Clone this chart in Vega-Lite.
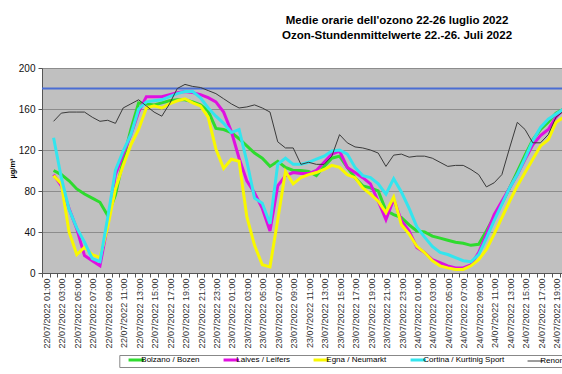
{
"$schema": "https://vega.github.io/schema/vega-lite/v6.json",
"width": 520, "height": 205,
"autosize": {"type": "none"},
"padding": {"left": 42, "top": 68, "right": 0, "bottom": 101},
"background": "white",
"config": {"font": "Liberation Sans", "view": {"fill": "#c0c0c0", "stroke": null}},
"title": {"text": ["Medie orarie dell'ozono 22-26 luglio 2022", "Ozon-Stundenmittelwerte 22.-26. Juli 2022"], "fontSize": 11.5, "fontWeight": "bold", "font": "Liberation Sans", "color": "#000", "anchor": "middle", "dx": 95, "lineHeight": 15, "offset": 22},
"datasets": {
"ozone": [
{"station":"Bolzano / Bozen","hour":1,"o3":100},{"station":"Bolzano / Bozen","hour":2,"o3":96},{"station":"Bolzano / Bozen","hour":3,"o3":90},{"station":"Bolzano / Bozen","hour":4,"o3":82},{"station":"Bolzano / Bozen","hour":5,"o3":77},{"station":"Bolzano / Bozen","hour":6,"o3":73},{"station":"Bolzano / Bozen","hour":7,"o3":69},{"station":"Bolzano / Bozen","hour":8,"o3":56},{"station":"Bolzano / Bozen","hour":9,"o3":76},{"station":"Bolzano / Bozen","hour":10,"o3":110},
{"station":"Bolzano / Bozen","hour":11,"o3":140},{"station":"Bolzano / Bozen","hour":12,"o3":166},{"station":"Bolzano / Bozen","hour":13,"o3":165},{"station":"Bolzano / Bozen","hour":14,"o3":164},{"station":"Bolzano / Bozen","hour":15,"o3":166},{"station":"Bolzano / Bozen","hour":16,"o3":168},{"station":"Bolzano / Bozen","hour":17,"o3":169},{"station":"Bolzano / Bozen","hour":18,"o3":169},{"station":"Bolzano / Bozen","hour":19,"o3":167},{"station":"Bolzano / Bozen","hour":20,"o3":164},
{"station":"Bolzano / Bozen","hour":21,"o3":158},{"station":"Bolzano / Bozen","hour":22,"o3":141},{"station":"Bolzano / Bozen","hour":23,"o3":140},{"station":"Bolzano / Bozen","hour":24,"o3":137},{"station":"Bolzano / Bozen","hour":25,"o3":131},{"station":"Bolzano / Bozen","hour":26,"o3":124},{"station":"Bolzano / Bozen","hour":27,"o3":117},{"station":"Bolzano / Bozen","hour":28,"o3":112},{"station":"Bolzano / Bozen","hour":29,"o3":104},{"station":"Bolzano / Bozen","hour":30,"o3":109},
{"station":"Bolzano / Bozen","hour":31,"o3":103},{"station":"Bolzano / Bozen","hour":32,"o3":100},{"station":"Bolzano / Bozen","hour":33,"o3":100},{"station":"Bolzano / Bozen","hour":34,"o3":99},{"station":"Bolzano / Bozen","hour":35,"o3":95},{"station":"Bolzano / Bozen","hour":36,"o3":104},{"station":"Bolzano / Bozen","hour":37,"o3":112},{"station":"Bolzano / Bozen","hour":38,"o3":114},{"station":"Bolzano / Bozen","hour":39,"o3":103},{"station":"Bolzano / Bozen","hour":40,"o3":93},
{"station":"Bolzano / Bozen","hour":41,"o3":85},{"station":"Bolzano / Bozen","hour":42,"o3":83},{"station":"Bolzano / Bozen","hour":43,"o3":80},{"station":"Bolzano / Bozen","hour":44,"o3":61},{"station":"Bolzano / Bozen","hour":45,"o3":57},{"station":"Bolzano / Bozen","hour":46,"o3":54},{"station":"Bolzano / Bozen","hour":47,"o3":47},{"station":"Bolzano / Bozen","hour":48,"o3":41},{"station":"Bolzano / Bozen","hour":49,"o3":40},{"station":"Bolzano / Bozen","hour":50,"o3":36},
{"station":"Bolzano / Bozen","hour":51,"o3":34},{"station":"Bolzano / Bozen","hour":52,"o3":32},{"station":"Bolzano / Bozen","hour":53,"o3":30},{"station":"Bolzano / Bozen","hour":54,"o3":29},{"station":"Bolzano / Bozen","hour":55,"o3":27},{"station":"Bolzano / Bozen","hour":56,"o3":28},{"station":"Bolzano / Bozen","hour":57,"o3":41},{"station":"Bolzano / Bozen","hour":58,"o3":55},{"station":"Bolzano / Bozen","hour":59,"o3":68},{"station":"Bolzano / Bozen","hour":60,"o3":83},
{"station":"Bolzano / Bozen","hour":61,"o3":99},{"station":"Bolzano / Bozen","hour":62,"o3":115},{"station":"Bolzano / Bozen","hour":63,"o3":130},{"station":"Bolzano / Bozen","hour":64,"o3":140},{"station":"Bolzano / Bozen","hour":65,"o3":147},{"station":"Bolzano / Bozen","hour":66,"o3":156},{"station":"Bolzano / Bozen","hour":67,"o3":160},

{"station":"Laives / Leifers","hour":1,"o3":96},{"station":"Laives / Leifers","hour":2,"o3":85},{"station":"Laives / Leifers","hour":3,"o3":63},{"station":"Laives / Leifers","hour":4,"o3":43},{"station":"Laives / Leifers","hour":5,"o3":17},{"station":"Laives / Leifers","hour":6,"o3":12},{"station":"Laives / Leifers","hour":7,"o3":7},{"station":"Laives / Leifers","hour":8,"o3":47},{"station":"Laives / Leifers","hour":9,"o3":96},{"station":"Laives / Leifers","hour":10,"o3":116},
{"station":"Laives / Leifers","hour":11,"o3":135},{"station":"Laives / Leifers","hour":12,"o3":157},{"station":"Laives / Leifers","hour":13,"o3":172},{"station":"Laives / Leifers","hour":14,"o3":172},{"station":"Laives / Leifers","hour":15,"o3":172},{"station":"Laives / Leifers","hour":16,"o3":174},{"station":"Laives / Leifers","hour":17,"o3":176},{"station":"Laives / Leifers","hour":18,"o3":177},{"station":"Laives / Leifers","hour":19,"o3":176},{"station":"Laives / Leifers","hour":20,"o3":174},
{"station":"Laives / Leifers","hour":21,"o3":171},{"station":"Laives / Leifers","hour":22,"o3":167},{"station":"Laives / Leifers","hour":23,"o3":157},{"station":"Laives / Leifers","hour":24,"o3":138},{"station":"Laives / Leifers","hour":25,"o3":112},{"station":"Laives / Leifers","hour":26,"o3":90},{"station":"Laives / Leifers","hour":27,"o3":78},{"station":"Laives / Leifers","hour":28,"o3":63},{"station":"Laives / Leifers","hour":29,"o3":41},{"station":"Laives / Leifers","hour":30,"o3":85},
{"station":"Laives / Leifers","hour":31,"o3":95},{"station":"Laives / Leifers","hour":32,"o3":98},{"station":"Laives / Leifers","hour":33,"o3":97},{"station":"Laives / Leifers","hour":34,"o3":97},{"station":"Laives / Leifers","hour":35,"o3":100},{"station":"Laives / Leifers","hour":36,"o3":108},{"station":"Laives / Leifers","hour":37,"o3":116},{"station":"Laives / Leifers","hour":38,"o3":119},{"station":"Laives / Leifers","hour":39,"o3":103},{"station":"Laives / Leifers","hour":40,"o3":98},
{"station":"Laives / Leifers","hour":41,"o3":93},{"station":"Laives / Leifers","hour":42,"o3":87},{"station":"Laives / Leifers","hour":43,"o3":70},{"station":"Laives / Leifers","hour":44,"o3":52},{"station":"Laives / Leifers","hour":45,"o3":72},{"station":"Laives / Leifers","hour":46,"o3":51},{"station":"Laives / Leifers","hour":47,"o3":41},{"station":"Laives / Leifers","hour":48,"o3":25},{"station":"Laives / Leifers","hour":49,"o3":20},{"station":"Laives / Leifers","hour":50,"o3":13},
{"station":"Laives / Leifers","hour":51,"o3":10},{"station":"Laives / Leifers","hour":52,"o3":7},{"station":"Laives / Leifers","hour":53,"o3":5},{"station":"Laives / Leifers","hour":54,"o3":5},{"station":"Laives / Leifers","hour":55,"o3":8},{"station":"Laives / Leifers","hour":56,"o3":20},{"station":"Laives / Leifers","hour":57,"o3":38},{"station":"Laives / Leifers","hour":58,"o3":57},{"station":"Laives / Leifers","hour":59,"o3":70},{"station":"Laives / Leifers","hour":60,"o3":83},
{"station":"Laives / Leifers","hour":61,"o3":96},{"station":"Laives / Leifers","hour":62,"o3":111},{"station":"Laives / Leifers","hour":63,"o3":125},{"station":"Laives / Leifers","hour":64,"o3":134},{"station":"Laives / Leifers","hour":65,"o3":140},{"station":"Laives / Leifers","hour":66,"o3":152},{"station":"Laives / Leifers","hour":67,"o3":160},

{"station":"Egna / Neumarkt","hour":1,"o3":95},{"station":"Egna / Neumarkt","hour":2,"o3":87},{"station":"Egna / Neumarkt","hour":3,"o3":40},{"station":"Egna / Neumarkt","hour":4,"o3":18},{"station":"Egna / Neumarkt","hour":5,"o3":25},{"station":"Egna / Neumarkt","hour":6,"o3":18},{"station":"Egna / Neumarkt","hour":7,"o3":15},{"station":"Egna / Neumarkt","hour":8,"o3":45},{"station":"Egna / Neumarkt","hour":9,"o3":82},{"station":"Egna / Neumarkt","hour":10,"o3":105},
{"station":"Egna / Neumarkt","hour":11,"o3":125},{"station":"Egna / Neumarkt","hour":12,"o3":140},{"station":"Egna / Neumarkt","hour":13,"o3":161},{"station":"Egna / Neumarkt","hour":14,"o3":163},{"station":"Egna / Neumarkt","hour":15,"o3":161},{"station":"Egna / Neumarkt","hour":16,"o3":165},{"station":"Egna / Neumarkt","hour":17,"o3":168},{"station":"Egna / Neumarkt","hour":18,"o3":170},{"station":"Egna / Neumarkt","hour":19,"o3":166},{"station":"Egna / Neumarkt","hour":20,"o3":163},
{"station":"Egna / Neumarkt","hour":21,"o3":152},{"station":"Egna / Neumarkt","hour":22,"o3":121},{"station":"Egna / Neumarkt","hour":23,"o3":102},{"station":"Egna / Neumarkt","hour":24,"o3":111},{"station":"Egna / Neumarkt","hour":25,"o3":109},{"station":"Egna / Neumarkt","hour":26,"o3":55},{"station":"Egna / Neumarkt","hour":27,"o3":27},{"station":"Egna / Neumarkt","hour":28,"o3":8},{"station":"Egna / Neumarkt","hour":29,"o3":6},{"station":"Egna / Neumarkt","hour":30,"o3":52},
{"station":"Egna / Neumarkt","hour":31,"o3":99},{"station":"Egna / Neumarkt","hour":32,"o3":87},{"station":"Egna / Neumarkt","hour":33,"o3":93},{"station":"Egna / Neumarkt","hour":34,"o3":96},{"station":"Egna / Neumarkt","hour":35,"o3":98},{"station":"Egna / Neumarkt","hour":36,"o3":101},{"station":"Egna / Neumarkt","hour":37,"o3":105},{"station":"Egna / Neumarkt","hour":38,"o3":103},{"station":"Egna / Neumarkt","hour":39,"o3":96},{"station":"Egna / Neumarkt","hour":40,"o3":93},
{"station":"Egna / Neumarkt","hour":41,"o3":83},{"station":"Egna / Neumarkt","hour":42,"o3":77},{"station":"Egna / Neumarkt","hour":43,"o3":70},{"station":"Egna / Neumarkt","hour":44,"o3":59},{"station":"Egna / Neumarkt","hour":45,"o3":74},{"station":"Egna / Neumarkt","hour":46,"o3":47},{"station":"Egna / Neumarkt","hour":47,"o3":38},{"station":"Egna / Neumarkt","hour":48,"o3":26},{"station":"Egna / Neumarkt","hour":49,"o3":20},{"station":"Egna / Neumarkt","hour":50,"o3":12},
{"station":"Egna / Neumarkt","hour":51,"o3":7},{"station":"Egna / Neumarkt","hour":52,"o3":5},{"station":"Egna / Neumarkt","hour":53,"o3":3.5},{"station":"Egna / Neumarkt","hour":54,"o3":3.5},{"station":"Egna / Neumarkt","hour":55,"o3":7},{"station":"Egna / Neumarkt","hour":56,"o3":13},{"station":"Egna / Neumarkt","hour":57,"o3":23},{"station":"Egna / Neumarkt","hour":58,"o3":38},{"station":"Egna / Neumarkt","hour":59,"o3":54},{"station":"Egna / Neumarkt","hour":60,"o3":70},
{"station":"Egna / Neumarkt","hour":61,"o3":85},{"station":"Egna / Neumarkt","hour":62,"o3":98},{"station":"Egna / Neumarkt","hour":63,"o3":111},{"station":"Egna / Neumarkt","hour":64,"o3":124},{"station":"Egna / Neumarkt","hour":65,"o3":130},{"station":"Egna / Neumarkt","hour":66,"o3":147},{"station":"Egna / Neumarkt","hour":67,"o3":152},

{"station":"Cortina / Kurtinig Sport","hour":1,"o3":132},{"station":"Cortina / Kurtinig Sport","hour":2,"o3":93},{"station":"Cortina / Kurtinig Sport","hour":3,"o3":62},{"station":"Cortina / Kurtinig Sport","hour":4,"o3":44},{"station":"Cortina / Kurtinig Sport","hour":5,"o3":30},{"station":"Cortina / Kurtinig Sport","hour":6,"o3":14},{"station":"Cortina / Kurtinig Sport","hour":7,"o3":11},{"station":"Cortina / Kurtinig Sport","hour":8,"o3":54},{"station":"Cortina / Kurtinig Sport","hour":9,"o3":100},{"station":"Cortina / Kurtinig Sport","hour":10,"o3":119},
{"station":"Cortina / Kurtinig Sport","hour":11,"o3":135},{"station":"Cortina / Kurtinig Sport","hour":12,"o3":160},{"station":"Cortina / Kurtinig Sport","hour":13,"o3":167},{"station":"Cortina / Kurtinig Sport","hour":14,"o3":168},{"station":"Cortina / Kurtinig Sport","hour":15,"o3":169},{"station":"Cortina / Kurtinig Sport","hour":16,"o3":172},{"station":"Cortina / Kurtinig Sport","hour":17,"o3":175},{"station":"Cortina / Kurtinig Sport","hour":18,"o3":177},{"station":"Cortina / Kurtinig Sport","hour":19,"o3":177},{"station":"Cortina / Kurtinig Sport","hour":20,"o3":171},
{"station":"Cortina / Kurtinig Sport","hour":21,"o3":161},{"station":"Cortina / Kurtinig Sport","hour":22,"o3":153},{"station":"Cortina / Kurtinig Sport","hour":23,"o3":146},{"station":"Cortina / Kurtinig Sport","hour":24,"o3":137},{"station":"Cortina / Kurtinig Sport","hour":25,"o3":140},{"station":"Cortina / Kurtinig Sport","hour":26,"o3":109},{"station":"Cortina / Kurtinig Sport","hour":27,"o3":73},{"station":"Cortina / Kurtinig Sport","hour":28,"o3":68},{"station":"Cortina / Kurtinig Sport","hour":29,"o3":48},{"station":"Cortina / Kurtinig Sport","hour":30,"o3":106},
{"station":"Cortina / Kurtinig Sport","hour":31,"o3":112},{"station":"Cortina / Kurtinig Sport","hour":32,"o3":106},{"station":"Cortina / Kurtinig Sport","hour":33,"o3":106},{"station":"Cortina / Kurtinig Sport","hour":34,"o3":108},{"station":"Cortina / Kurtinig Sport","hour":35,"o3":111},{"station":"Cortina / Kurtinig Sport","hour":36,"o3":114},{"station":"Cortina / Kurtinig Sport","hour":37,"o3":119},{"station":"Cortina / Kurtinig Sport","hour":38,"o3":120},{"station":"Cortina / Kurtinig Sport","hour":39,"o3":116},{"station":"Cortina / Kurtinig Sport","hour":40,"o3":103},
{"station":"Cortina / Kurtinig Sport","hour":41,"o3":95},{"station":"Cortina / Kurtinig Sport","hour":42,"o3":93},{"station":"Cortina / Kurtinig Sport","hour":43,"o3":87},{"station":"Cortina / Kurtinig Sport","hour":44,"o3":77},{"station":"Cortina / Kurtinig Sport","hour":45,"o3":92},{"station":"Cortina / Kurtinig Sport","hour":46,"o3":79},{"station":"Cortina / Kurtinig Sport","hour":47,"o3":63},{"station":"Cortina / Kurtinig Sport","hour":48,"o3":45},{"station":"Cortina / Kurtinig Sport","hour":49,"o3":35},{"station":"Cortina / Kurtinig Sport","hour":50,"o3":26},
{"station":"Cortina / Kurtinig Sport","hour":51,"o3":20},{"station":"Cortina / Kurtinig Sport","hour":52,"o3":18},{"station":"Cortina / Kurtinig Sport","hour":53,"o3":15},{"station":"Cortina / Kurtinig Sport","hour":54,"o3":12},{"station":"Cortina / Kurtinig Sport","hour":55,"o3":11},{"station":"Cortina / Kurtinig Sport","hour":56,"o3":18},{"station":"Cortina / Kurtinig Sport","hour":57,"o3":34},{"station":"Cortina / Kurtinig Sport","hour":58,"o3":51},{"station":"Cortina / Kurtinig Sport","hour":59,"o3":67},{"station":"Cortina / Kurtinig Sport","hour":60,"o3":83},
{"station":"Cortina / Kurtinig Sport","hour":61,"o3":96},{"station":"Cortina / Kurtinig Sport","hour":62,"o3":112},{"station":"Cortina / Kurtinig Sport","hour":63,"o3":129},{"station":"Cortina / Kurtinig Sport","hour":64,"o3":142},{"station":"Cortina / Kurtinig Sport","hour":65,"o3":150},{"station":"Cortina / Kurtinig Sport","hour":66,"o3":155},{"station":"Cortina / Kurtinig Sport","hour":67,"o3":160},

{"station":"Renon / Ritten","hour":1,"o3":148},{"station":"Renon / Ritten","hour":2,"o3":156},{"station":"Renon / Ritten","hour":3,"o3":157},{"station":"Renon / Ritten","hour":4,"o3":157},{"station":"Renon / Ritten","hour":5,"o3":157},{"station":"Renon / Ritten","hour":6,"o3":152},{"station":"Renon / Ritten","hour":7,"o3":148},{"station":"Renon / Ritten","hour":8,"o3":149},{"station":"Renon / Ritten","hour":9,"o3":146},{"station":"Renon / Ritten","hour":10,"o3":161},
{"station":"Renon / Ritten","hour":11,"o3":165},{"station":"Renon / Ritten","hour":12,"o3":169},{"station":"Renon / Ritten","hour":13,"o3":163},{"station":"Renon / Ritten","hour":14,"o3":157},{"station":"Renon / Ritten","hour":15,"o3":153},{"station":"Renon / Ritten","hour":16,"o3":165},{"station":"Renon / Ritten","hour":17,"o3":180},{"station":"Renon / Ritten","hour":18,"o3":184},{"station":"Renon / Ritten","hour":19,"o3":182},{"station":"Renon / Ritten","hour":20,"o3":181},
{"station":"Renon / Ritten","hour":21,"o3":178},{"station":"Renon / Ritten","hour":22,"o3":175},{"station":"Renon / Ritten","hour":23,"o3":170},{"station":"Renon / Ritten","hour":24,"o3":165},{"station":"Renon / Ritten","hour":25,"o3":161},{"station":"Renon / Ritten","hour":26,"o3":162},{"station":"Renon / Ritten","hour":27,"o3":164},{"station":"Renon / Ritten","hour":28,"o3":161},{"station":"Renon / Ritten","hour":29,"o3":157},{"station":"Renon / Ritten","hour":30,"o3":128},
{"station":"Renon / Ritten","hour":31,"o3":122},{"station":"Renon / Ritten","hour":32,"o3":122},{"station":"Renon / Ritten","hour":33,"o3":106},{"station":"Renon / Ritten","hour":34,"o3":108},{"station":"Renon / Ritten","hour":35,"o3":106},{"station":"Renon / Ritten","hour":36,"o3":106},{"station":"Renon / Ritten","hour":37,"o3":114},{"station":"Renon / Ritten","hour":38,"o3":135},{"station":"Renon / Ritten","hour":39,"o3":127},{"station":"Renon / Ritten","hour":40,"o3":123},
{"station":"Renon / Ritten","hour":41,"o3":122},{"station":"Renon / Ritten","hour":42,"o3":120},{"station":"Renon / Ritten","hour":43,"o3":117},{"station":"Renon / Ritten","hour":44,"o3":104},{"station":"Renon / Ritten","hour":45,"o3":115},{"station":"Renon / Ritten","hour":46,"o3":116},{"station":"Renon / Ritten","hour":47,"o3":113},{"station":"Renon / Ritten","hour":48,"o3":114},{"station":"Renon / Ritten","hour":49,"o3":114},{"station":"Renon / Ritten","hour":50,"o3":112},
{"station":"Renon / Ritten","hour":51,"o3":108},{"station":"Renon / Ritten","hour":52,"o3":104},{"station":"Renon / Ritten","hour":53,"o3":105},{"station":"Renon / Ritten","hour":54,"o3":105},{"station":"Renon / Ritten","hour":55,"o3":101},{"station":"Renon / Ritten","hour":56,"o3":96},{"station":"Renon / Ritten","hour":57,"o3":84},{"station":"Renon / Ritten","hour":58,"o3":88},{"station":"Renon / Ritten","hour":59,"o3":96},{"station":"Renon / Ritten","hour":60,"o3":122},
{"station":"Renon / Ritten","hour":61,"o3":147},{"station":"Renon / Ritten","hour":62,"o3":140},{"station":"Renon / Ritten","hour":63,"o3":127},{"station":"Renon / Ritten","hour":64,"o3":127},{"station":"Renon / Ritten","hour":65,"o3":135},{"station":"Renon / Ritten","hour":66,"o3":152},{"station":"Renon / Ritten","hour":67,"o3":158}
],
"limit": [{"threshold": 180}]
},
"layer": [
{"data": {"name": "limit"},
 "mark": {"type": "rule", "color": "#4a6dd3", "strokeWidth": 2},
 "encoding": {"y": {"field": "threshold", "type": "quantitative", "title": "µg/m³"}}},
{"data": {"name": "ozone"},
 "mark": {"type": "line", "clip": true},
 "encoding": {
  "x": {"field": "hour", "type": "quantitative",
        "scale": {"domain": [-0.5, 66.78], "nice": false, "zero": false},
        "axis": {"title": null, "grid": false,
                 "values": [-0.5,0.5,1.5,2.5,3.5,4.5,5.5,6.5,7.5,8.5,9.5,10.5,11.5,12.5,13.5,14.5,15.5,16.5,17.5,18.5,19.5,20.5,21.5,22.5,23.5,24.5,25.5,26.5,27.5,28.5,29.5,30.5,31.5,32.5,33.5,34.5,35.5,36.5,37.5,38.5,39.5,40.5,41.5,42.5,43.5,44.5,45.5,46.5,47.5,48.5,49.5,50.5,51.5,52.5,53.5,54.5,55.5,56.5,57.5,58.5,59.5,60.5,61.5,62.5,63.5,64.5,65.5,66.5],
                 "labelExpr": "(datum.value + 0.5) % 2 == 0 ? timeFormat(datetime(2022, 6, 22, 1 + datum.value + 0.5), '%d/%m/%Y %H:%M') : ''",
                 "labelAngle": -90, "labelAlign": "right", "labelBaseline": "middle", "labelOffset": 4.5,
                 "labelFontSize": 9, "labelColor": "#333", "labelPadding": 1, "labelOverlap": false, "labelBound": false, "labelFlush": false,
                 "tickSize": 4, "tickColor": "#555", "domainColor": "#555"}},
  "y": {"field": "o3", "type": "quantitative", "title": "µg/m³",
        "scale": {"domain": [0, 200], "nice": false},
        "axis": {"values": [0,20,40,60,80,100,120,140,160,180,200], "grid": true, "gridColor": "#8c8c8c", "gridWidth": 1,
                 "domainColor": "#555", "tickColor": "#555", "tickSize": 4, "labelFontSize": 10, "labelColor": "#111", "labelPadding": 3,
                 "titleFontSize": 7.5, "titleFontWeight": "bold", "titleColor": "#000", "titleX": -30, "titleY": 100, "titleAngle": -90, "titleAlign": "center", "titleBaseline": "middle"}},
  "color": {"field": "station", "type": "nominal",
            "scale": {"domain": ["Bolzano / Bozen", "Laives / Leifers", "Egna / Neumarkt", "Cortina / Kurtinig Sport", "Renon / Ritten"],
                      "range": ["#2edb2e", "#e010e0", "#f8f800", "#33e5ee", "#3a3a3a"]},
            "legend": {"orient": "none", "legendX": 77.3, "legendY": 287, "direction": "horizontal", "columns": 5, "title": null,
                       "symbolType": "stroke", "symbolSize": 240, "symbolStrokeWidth": 3, "labelFontSize": 8, "labelColor": "#000",
                       "labelOffset": 1, "columnPadding": 15, "padding": 1, "strokeColor": "#888", "fillColor": "white", "symbolOffset": 12, "labelLimit": 0,
                       "encode": {"symbols": {"update": {"strokeWidth": {"signal": "datum.label === 'Renon / Ritten' ? 1 : 3"}}}}}},
  "strokeWidth": {"condition": {"test": "datum.station === 'Renon / Ritten'", "value": 1}, "value": 3}
 }}
]
}
